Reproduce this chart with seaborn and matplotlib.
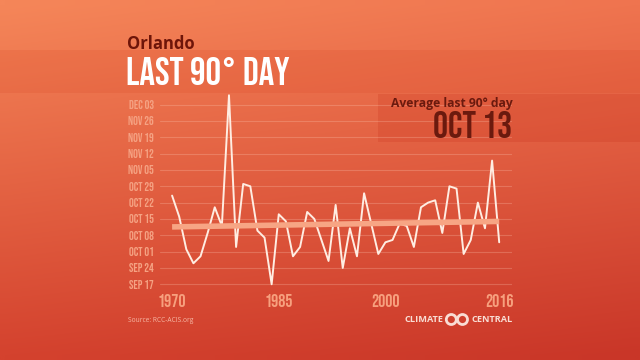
import numpy as np
import pandas as pd
import matplotlib
matplotlib.use("Agg")
import matplotlib.pyplot as plt
from matplotlib import font_manager
from matplotlib.patches import Rectangle, Circle
import seaborn as sns

# ---------------- data ----------------
years = list(range(1970, 2017))
last_90_day = [
    "10-25", "10-16", "10-02", "09-26", "09-29", "10-09", "10-20", "10-12", "12-07", "10-03",
    "10-30", "10-29", "10-10", "10-07", "09-17", "10-17", "10-14", "09-29", "10-03", "10-18",
    "10-15", "10-06", "09-27", "10-21", "09-24", "10-11", "09-29", "10-26", "10-13", "09-30",
    "10-05", "10-06", "10-13", "10-12", "10-03", "10-20", "10-22", "10-23", "10-09", "10-29",
    "10-28", "09-30", "10-06", "10-22", "10-11", "11-09", "10-05",
]
ytick_dates = ["09-17", "09-24", "10-01", "10-08", "10-15", "10-22", "10-29",
               "11-05", "11-12", "11-19", "11-26", "12-03"]
ytick_labels = ["SEP 17", "SEP 24", "OCT 01", "OCT 08", "OCT 15", "OCT 22", "OCT 29",
                "NOV 05", "NOV 12", "NOV 19", "NOV 26", "DEC 03"]
xtick_years = [1970, 1985, 2000, 2016]
city = "Orlando"
title = "LAST 90° DAY"
avg_label = "Average last 90° day"
avg_value = "OCT 13"
source = "Source: RCC-ACIS.org"

def doy(s):
    return pd.to_datetime("2001-" + s).dayofyear

df = pd.DataFrame({"year": years, "day": [doy(s) for s in last_90_day]})
ytick_pos = [doy(s) for s in ytick_dates]

# ---------------- fonts ----------------
avail = {f.name for f in font_manager.fontManager.ttflist}
def pick(cands, default="DejaVu Sans"):
    for c in cands:
        if c in avail:
            return c
    return default
COND = pick(["Bebas Neue", "Oswald", "Roboto Condensed", "Liberation Sans Narrow",
             "DejaVu Sans Condensed", "DejaVu Sans"])
SANS = pick(["Open Sans", "Lato", "DejaVu Sans"])

sns.set_theme(style="white")
plt.rcParams["font.family"] = [SANS, "DejaVu Sans"]

W, H = 640, 360
fig = plt.figure(figsize=(6.4, 3.6), dpi=100)

def fx(px):
    return px / W
def fy(py):
    return 1 - py / H

# ---------------- background gradient ----------------
bg = fig.add_axes([0, 0, 1, 1], zorder=-10)
tl = np.array([0xF5, 0x86, 0x59]) / 255
tr = np.array([0xEF, 0x74, 0x4F]) / 255
bl = np.array([0xD4, 0x42, 0x2E]) / 255
br = np.array([0xC9, 0x36, 0x28]) / 255
gx = np.linspace(0, 1, 64)[None, :, None]
gy = np.linspace(0, 1, 36)[:, None, None]
img = (1 - gy) * ((1 - gx) * tl + gx * tr) + gy * ((1 - gx) * bl + gx * br)
bg.imshow(img, extent=[0, 1, 0, 1], aspect="auto", origin="upper", interpolation="bilinear")
bg.add_patch(Rectangle((0, fy(93)), 1, fy(50) - fy(93), color="#D8401F", alpha=0.16,
                       transform=bg.transAxes, lw=0))
bg.add_patch(Rectangle((fx(378), fy(142)), 1 - fx(378), fy(94) - fy(142), color="#C8301A",
                       alpha=0.22, transform=bg.transAxes, lw=0))
bg.set_xlim(0, 1); bg.set_ylim(0, 1)
bg.axis("off")

# ---------------- chart axes ----------------
ax = fig.add_axes([fx(160), fy(286), fx(512) - fx(160), fy(92) - fy(286)])
ax.set_facecolor("none")
for s in ax.spines.values():
    s.set_visible(False)

for yp in ytick_pos:
    ax.axhline(yp, color="#FFD0BC", alpha=0.25, lw=0.8, zorder=1)

sns.lineplot(data=df, x="year", y="day", ax=ax, color="#FFEDE2", lw=1.4, zorder=3)
sns.regplot(data=df, x="year", y="day", ax=ax, scatter=False, ci=None,
            line_kws={"color": "#F7A584", "lw": 4, "solid_capstyle": "butt", "zorder": 4})

ax.set_xlim(1968.3, 2017.8)
ax.set_ylim(ytick_pos[0] - 0.73, ytick_pos[0] + 82.4)
ax.set_yticks(ytick_pos)
ax.set_yticklabels(ytick_labels, family=[COND, "DejaVu Sans"], fontweight="bold",
                   fontsize=8.6, color="#F5A283")
ax.set_xticks(xtick_years)
ax.set_xticklabels([str(y) for y in xtick_years], family=[COND, "DejaVu Sans"],
                   fontweight="bold", fontsize=12.8, color="#F7A07E")
ax.tick_params(axis="y", length=0, pad=4.5)
ax.tick_params(axis="x", length=0, pad=6)
ax.set_xlabel("")
ax.set_ylabel("")
ax.grid(False)

# ---------------- texts ----------------
fig.text(fx(127), fy(49), city, fontsize=12, fontweight="bold", color="#6E1509",
         va="baseline", ha="left")
fig.text(fx(126), fy(85), title, fontsize=28, fontweight="bold", color="white",
         family=[COND, "DejaVu Sans"], va="baseline", ha="left")
fig.text(fx(513), fy(107.3), avg_label, fontsize=8.7, fontweight="bold", color="#6B1A0E",
         va="baseline", ha="right")
fig.text(fx(512), fy(138), avg_value, fontsize=27, fontweight="bold", color="#6B1A0E",
         family=[COND, "DejaVu Sans"], va="baseline", ha="right")
fig.text(fx(128), fy(320.5), source, fontsize=4.8, color="#F6B7A5", va="center", ha="left")

# Climate Central logo
fig.text(fx(443), fy(319.5), "CLIMATE", fontsize=6.6, fontweight="bold", color="#F9DDD4",
         va="center", ha="right")
fig.text(fx(471.5), fy(319.5), "CENTRAL", fontsize=6.6, fontweight="bold", color="#F9DDD4",
         va="center", ha="left")
for cxp in (451.3, 462.5):
    fig.add_artist(Circle((cxp / 100, (H - 319.5) / 100), 0.05, fill=False,
                          ec="#F9DDD4", lw=2.0, transform=fig.dpi_scale_trans))

fig.savefig("out.png", dpi=100)
